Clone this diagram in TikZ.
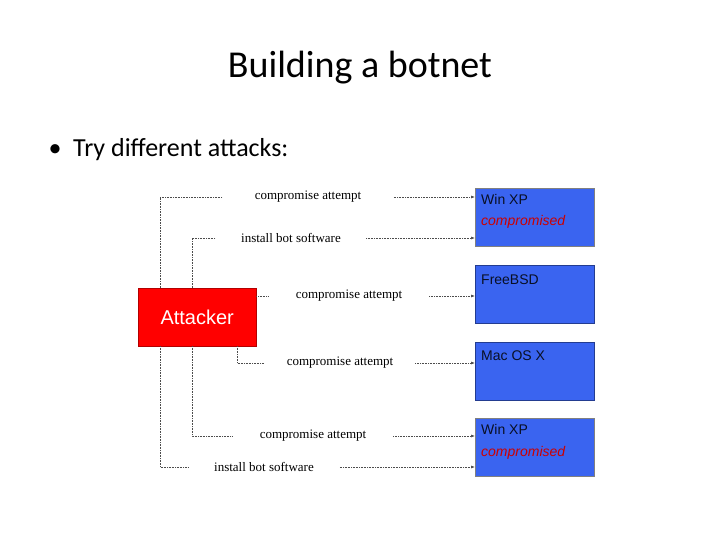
\documentclass[tikz,border=0pt]{standalone}
\usetikzlibrary{arrows.meta}
\usepackage{fontspec}
\setmainfont{Carlito}
\newfontfamily\serifl{Liberation Serif}
\newfontfamily\sansl{Liberation Sans}
\begin{document}
\begin{tikzpicture}[x=1pt,y=-1pt,
  lbl/.style={fill=white,font=\serifl\fontsize{13}{13}\selectfont,inner sep=1pt},
  dl/.style={densely dotted,gray!60!black,line width=0.6pt},
  ar/.style={dl,-{Latex[length=4pt,width=3pt]}},
  htext/.style={anchor=north west,font=\sansl\fontsize{14}{14}\selectfont,inner sep=0pt}]
\useasboundingbox (0,0) rectangle (720,540);
\definecolor{hb}{RGB}{58,100,240}
\tikzset{host/.style={draw=#1,line width=1.2pt,fill=hb,minimum width=119pt,minimum height=58pt,inner sep=0pt,anchor=north west}}
\node[font=\fontsize{38}{38}\selectfont] (t) at (360,68) {Building a botnet};
\node[anchor=west,font=\fontsize{26}{26}\selectfont] (b) at (45,150) {\textbullet\ \ Try different attacks:};
\node[draw=red!70!black,fill=red,minimum width=118pt,minimum height=58pt,inner sep=0pt,anchor=north west,text=white,font=\sansl\fontsize{20}{20}\selectfont] (att) at (138,288) {Attacker};
\node[host=gray] (h1) at (475,188) {};
\node[host=hb!60!black] (h2) at (475,265) {};
\node[host=hb!60!black] (h3) at (475,342) {};
\node[host=gray] (h4) at (475,418) {};
\node[htext,text=hb!15!black] (t1) at (481,194) {Win XP};
\node[htext,text=red!80!black,font=\sansl\itshape\fontsize{14}{14}\selectfont] (c1) at (481,215) {compromised};
\node[htext,text=hb!15!black] (t2) at (481,275) {FreeBSD};
\node[htext,text=hb!15!black] (t3) at (481,351) {Mac OS X};
\node[htext,text=hb!15!black] (t4) at (481,424) {Win XP};
\node[htext,text=red!80!black,font=\sansl\itshape\fontsize{14}{14}\selectfont] (c4) at (481,446) {compromised};
\coordinate (a1) at (160,288); \coordinate (k1) at (160,197);
\coordinate (a2) at (192,288); \coordinate (k2) at (192,238);
\coordinate (a4) at (237,346); \coordinate (k4) at (237,363);
\coordinate (a5) at (192,346); \coordinate (k5) at (192,436);
\coordinate (a6) at (160,346); \coordinate (k6) at (160,467);
\draw[ar] (a1) -- (k1) -- (h1.west |- k1);
\draw[ar] (a2) -- (k2) -- (h1.west |- k2);
\draw[ar] (att.east |- 0,296) -- (h2.west |- 0,296);
\draw[ar] (a4) -- (k4) -- (h3.west |- k4);
\draw[ar] (a5) -- (k5) -- (h4.west |- k5);
\draw[ar] (a6) -- (k6) -- (h4.west |- k6);
\node[lbl,minimum width=170pt] (l1) at (308,197) {compromise attempt};
\node[lbl,minimum width=150pt] (l2) at (291,238) {install bot software};
\node[lbl,minimum width=160pt] (l3) at (349,296) {compromise attempt};
\node[lbl,minimum width=150pt] (l4) at (340,363) {compromise attempt};
\node[lbl,minimum width=160pt] (l5) at (313,436) {compromise attempt};
\node[lbl,minimum width=150pt] (l6) at (264,467) {install bot software};
\end{tikzpicture}
\end{document}
